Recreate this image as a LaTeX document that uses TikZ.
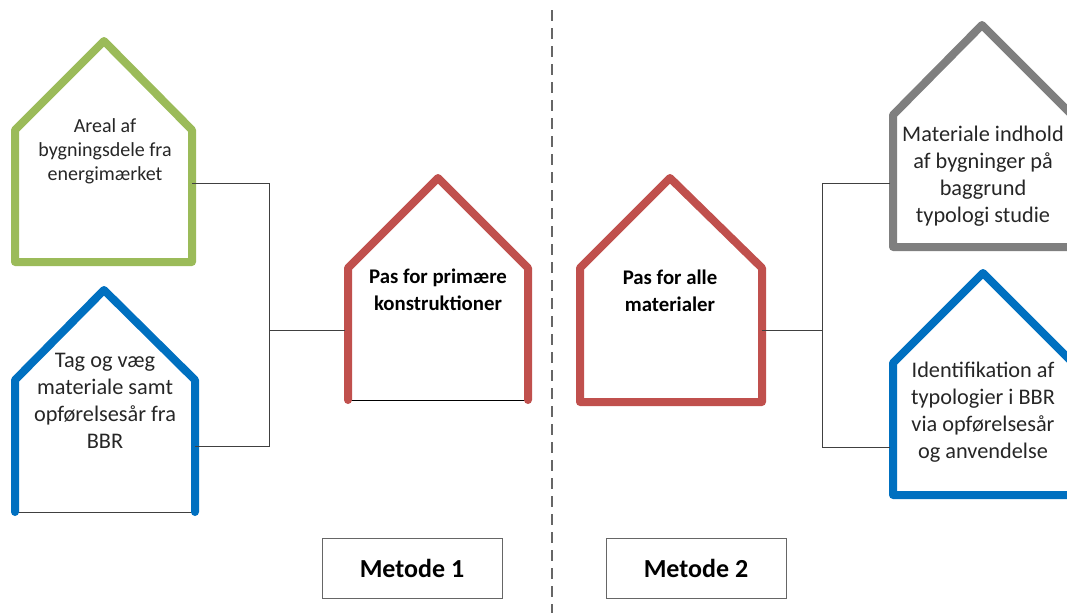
\documentclass[tikz,border=0pt]{standalone}
\usepackage{fontspec}
\setmainfont{Carlito}
\definecolor{husgreen}{HTML}{9BBB59}
\definecolor{husblue}{HTML}{0070C0}
\definecolor{husred}{HTML}{C0504D}
\definecolor{husgray}{HTML}{7F7F7F}
\tikzset{
	wall/.style={line width=8pt, line join=round, line cap=round},
	link/.style={draw=black!75, line width=1pt},
	tekst/.style={align=center, inner sep=0pt, text=black!85, font=\fontsize{22.3}{27}\selectfont},
	fedtekst/.style={align=center, inner sep=0pt, font=\bfseries\fontsize{20.8}{27}\selectfont},
	metode/.style={draw=black!60, line width=1pt, minimum width=180pt, minimum height=60pt, font=\bfseries\fontsize{26}{27}\selectfont}
}
\begin{document}
\begin{tikzpicture}[x=1pt,y=-1pt]
		\clip (0,0) rectangle (1067,613);
		\draw[husgreen, wall] (15,262) -- (15,130) -- (104,41) -- (192,130) -- (192,262) -- cycle;
		\draw[link] (18,512) -- (192,512);
		\draw[husblue, wall] (15,512) -- (15,380) -- (104,290) -- (195,380) -- (195,512);
		\draw[black, line width=1pt] (351,400) -- (525,400);
		\draw[husred, wall] (348,400) -- (348,268) -- (438,178) -- (528,268) -- (528,400);
		\draw[husred, wall] (580,402) -- (580,268) -- (670,178) -- (762,268) -- (762,402) -- cycle;
		\draw[husgray, wall] (893,247) -- (893,115) -- (982,25) -- (1072,115) -- (1072,247) -- cycle;
		\draw[husblue, wall] (893,495) -- (893,363) -- (983,273) -- (1073,363) -- (1073,495) -- cycle;
		\node[tekst, font=\fontsize{20}{24}\selectfont] (areal) at (105,151) {Areal af\\bygningsdele fra\\energimærket};
		\node[tekst] (tag) at (105,401) {Tag og væg\\materiale samt\\opførelsesår fra\\BBR};
		\node[fedtekst] (primaere) at (438,290) {Pas for primære\\konstruktioner};
		\node[fedtekst] (alle) at (670,291) {Pas for alle\\materialer};
		\node[tekst] (indhold) at (983,176) {Materiale indhold\\af bygninger på\\baggrund\\typologi studie};
		\node[tekst] (typologi) at (983,412) {Identifikation af\\typologier i BBR\\via opførelsesår\\og anvendelse};
		\node[metode] (metode1) at (412,568) {Metode 1};
		\node[metode] (metode2) at (696,568) {Metode 2};
		\coordinate (arealud) at (192,183);
		\coordinate (tagud) at (195,446);
		\coordinate (samlev) at (269,330);
		\coordinate (primaereind) at (345,330);
		\coordinate (alleud) at (762,330);
		\coordinate (samleh) at (822,330);
		\coordinate (indholdind) at (890,183);
		\coordinate (typologiind) at (890,447);
		\draw[link] (arealud) -| (samlev);
		\draw[link] (tagud) -| (samlev);
		\draw[link] (samlev) -- (primaereind);
		\draw[link] (alleud) -- (samleh);
		\draw[link] (indholdind) -| (samleh);
		\draw[link] (typologiind) -| (samleh);
		\coordinate (deltop) at (552,10);
		\coordinate (delbund) at (552,613);
		\draw[draw=black!60, line width=1.6pt, dash pattern=on 11pt off 7pt] (deltop) -- (delbund);
	\end{tikzpicture}
\end{document}
